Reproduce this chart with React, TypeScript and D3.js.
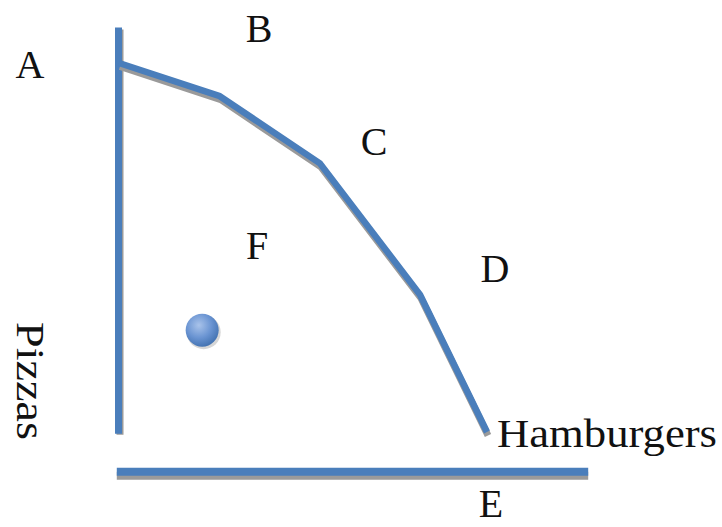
import React from "react";
import * as d3 from "d3";

// Production possibilities frontier data (arbitrary units)
const pointLabels = ["A", "B", "C", "D", "E"];
const hamburgers = [0, 27.4, 54.6, 81.8, 100];
const pizzas = [100, 91, 72.8, 37.2, 0];
const inefficientPoint = { label: "F", hamburgers: 22.6, pizzas: 27.6 };
const xAxisTitle = "Hamburgers";
const yAxisTitle = "Pizzas";

const W = 722;
const H = 527;
const BLUE = "#4a7ebb";
const SHADOW = "#9a9a9a";
const FONT = "'Liberation Serif', 'Times New Roman', serif";

export default function App() {
  const x = d3.scaleLinear().domain([0, 100]).range([119, 487]);
  const y = d3.scaleLinear().domain([0, 100]).range([432, 63]);

  const data = hamburgers.map((h, i) => ({ h, p: pizzas[i] }));
  const line = d3
    .line<{ h: number; p: number }>()
    .x((d) => x(d.h))
    .y((d) => y(d.p));
  const path = line(data) || "";

  const axisX = x(0) - 0.5;
  const axisTop = y(109.6);
  const axisBottom = y(-0.5);
  const hAxisY = y(-10.8);
  const hAxisLeft = x(-0.6);
  const hAxisRight = x(127.5);

  // label anchor positions (text layout)
  const labels = [
    { t: pointLabels[0], x: 30, y: 78 },
    { t: pointLabels[1], x: 259, y: 42 },
    { t: pointLabels[2], x: 374, y: 155 },
    { t: pointLabels[3], x: 495, y: 282 },
    { t: pointLabels[4], x: 491, y: 517 },
    { t: inefficientPoint.label, x: 257, y: 259 },
  ];

  return (
    <svg
      width={W}
      height={H}
      style={{ position: "absolute", left: 0, top: 0, background: "#fff" }}
    >
      <defs>
        <radialGradient id="ball" cx="0.4" cy="0.35" r="0.7">
          <stop offset="0%" stopColor="#a9c3ea" />
          <stop offset="55%" stopColor="#6a94d2" />
          <stop offset="100%" stopColor="#3f6fae" />
        </radialGradient>
      </defs>
      <rect width={W} height={H} fill="#fff" />

      {/* vertical axis */}
      <line x1={axisX + 1.5} x2={axisX + 1.5} y1={axisTop + 2} y2={axisBottom + 1} stroke={SHADOW} strokeWidth={7} />
      <line x1={axisX} x2={axisX} y1={axisTop} y2={axisBottom} stroke={BLUE} strokeWidth={7} />

      {/* horizontal axis */}
      <line x1={hAxisLeft} x2={hAxisRight} y1={hAxisY + 4} y2={hAxisY + 4} stroke={SHADOW} strokeWidth={8} />
      <line x1={hAxisLeft} x2={hAxisRight} y1={hAxisY} y2={hAxisY} stroke={BLUE} strokeWidth={8} />

      {/* frontier curve with shadow */}
      <path d={path} transform="translate(1,3.5)" fill="none" stroke={SHADOW} strokeWidth={7} strokeLinejoin="round" />
      <path d={path} fill="none" stroke={BLUE} strokeWidth={6.5} strokeLinejoin="round" />

      {/* inefficient point */}
      <circle cx={x(inefficientPoint.hamburgers) + 1.5} cy={y(inefficientPoint.pizzas) + 2} r={17} fill="#bbb" opacity={0.6} />
      <circle cx={x(inefficientPoint.hamburgers)} cy={y(inefficientPoint.pizzas)} r={16.5} fill="url(#ball)" />

      {labels.map((l) => (
        <text key={l.t} x={l.x} y={l.y} textAnchor="middle" fontFamily={FONT} fontSize={40} fill="#111">
          {l.t}
        </text>
      ))}

      <text x={497} y={447} fontFamily={FONT} fontSize={40} fill="#111" textLength={220} lengthAdjust="spacingAndGlyphs">
        {xAxisTitle}
      </text>
      <text
        transform="translate(17,322) rotate(90)"
        fontFamily={FONT}
        fontSize={40}
        fill="#111"
        textLength={118}
        lengthAdjust="spacingAndGlyphs"
      >
        {yAxisTitle}
      </text>
    </svg>
  );
}
